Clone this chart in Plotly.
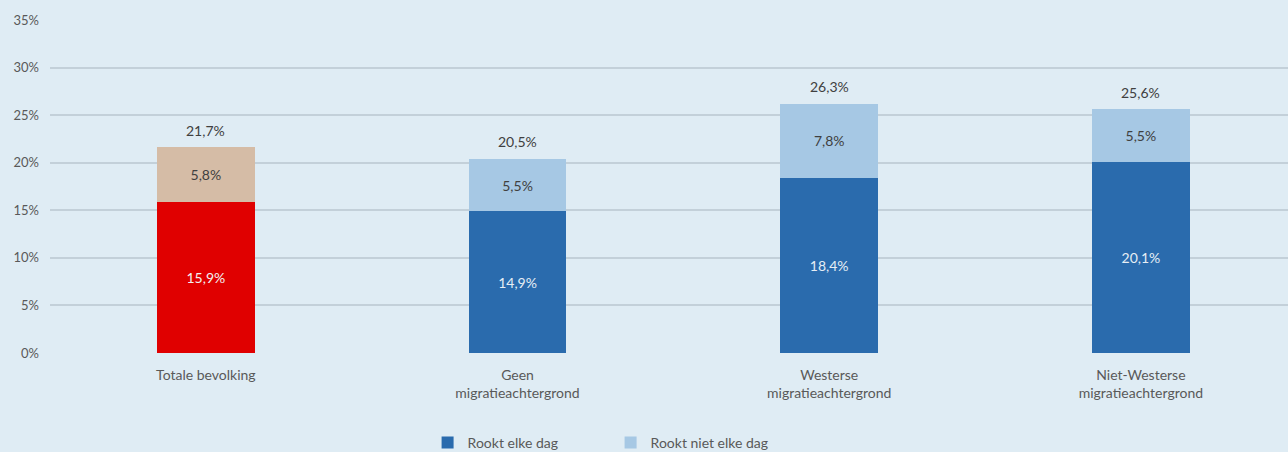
import plotly.graph_objects as go

categories = ["Totale bevolking", "Geen<br>migratieachtergrond", "Westerse<br>migratieachtergrond",
              "Niet-Westerse<br>migratieachtergrond"]
daily = [15.9, 14.9, 18.4, 20.1]
not_daily = [5.8, 5.5, 7.8, 5.5]
totals = [21.7, 20.5, 26.3, 25.6]
y_ticks = [0, 5, 10, 15, 20, 25, 30, 35]

def fmt(v):
    return f"{v:.1f}".replace(".", ",") + "%"

def split(values, first):
    # first category (totale bevolking) gets its own colours
    if first:
        return [values[0], None, None, None]
    return [None] + values[1:]

font = "Lato, Open Sans, sans-serif"
bar_w = 0.314

fig = go.Figure()
fig.add_trace(go.Bar(x=categories, y=split(daily, True), width=bar_w, marker_color="#E00000",
                     text=[fmt(v) if v is not None else "" for v in split(daily, True)],
                     textposition="inside", insidetextanchor="middle",
                     textfont=dict(color="#F2F2F2", size=14), showlegend=False))
fig.add_trace(go.Bar(x=categories, y=split(daily, False), width=bar_w, marker_color="#2A6BAD",
                     name="Rookt elke dag",
                     text=[fmt(v) if v is not None else "" for v in split(daily, False)],
                     textposition="inside", insidetextanchor="middle",
                     textfont=dict(color="#E6EEF5", size=14)))
fig.add_trace(go.Bar(x=categories, y=split(not_daily, True), width=bar_w, marker_color="#D5BCA6",
                     text=[fmt(v) if v is not None else "" for v in split(not_daily, True)],
                     textposition="inside", insidetextanchor="middle",
                     textfont=dict(color="#404040", size=14), showlegend=False))
fig.add_trace(go.Bar(x=categories, y=split(not_daily, False), width=bar_w, marker_color="#A6C8E4",
                     name="Rookt niet elke dag",
                     text=[fmt(v) if v is not None else "" for v in split(not_daily, False)],
                     textposition="inside", insidetextanchor="middle",
                     textfont=dict(color="#404040", size=14)))

# totals above each stack
for cat, tot in zip(categories, totals):
    fig.add_annotation(x=cat, y=tot, text=fmt(tot), showarrow=False, yanchor="bottom", yshift=6,
                       font=dict(color="#404040", size=14))

fig.update_traces(marker_line_width=0, selector=dict(type="bar"))
fig.update_layout(
    barmode="stack",
    width=1288, height=452,
    margin=dict(l=50, r=0, t=20, b=99, autoexpand=False),
    paper_bgcolor="#DFECF4", plot_bgcolor="#DFECF4",
    font=dict(family=font, size=14, color="#595959"),
    uniformtext=dict(mode="show", minsize=14),
    legend=dict(orientation="h", x=0.305, xanchor="left", y=-0.222, yanchor="top",
                font=dict(size=14, color="#595959"), entrywidth=138, traceorder="normal"),
)
fig.update_xaxes(range=[-0.5, 3.472], showgrid=False, showline=False, ticks="", automargin=False,
                 ticklabelstandoff=12, tickfont=dict(size=14, color="#595959"))
fig.update_yaxes(range=[0, 35], tickvals=y_ticks, ticktext=[f"{v}%" for v in y_ticks],
                 gridcolor="#C3D0D9", gridwidth=1.5, zeroline=False, showline=False, automargin=False,
                 ticklabelstandoff=10, tickfont=dict(size=13, color="#595959"), ticks="")

fig.write_html("out.html", config={"displayModeBar": False},
               post_script="document.body.style.margin='0';")
